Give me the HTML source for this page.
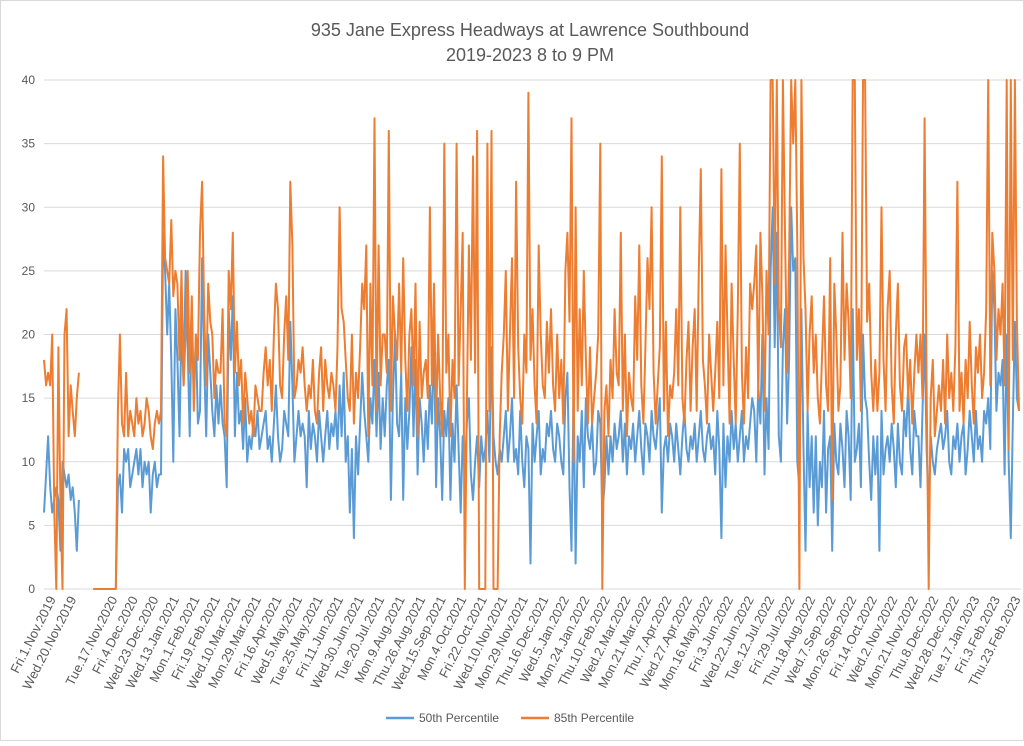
<!DOCTYPE html>
<html><head><meta charset="utf-8"><style>
body{margin:0;background:#fff;}
svg text{font-family:"Liberation Sans",sans-serif;fill:#595959;}
</style></head><body>
<svg id="chart" width="1024" height="741" xmlns="http://www.w3.org/2000/svg">
<rect x="0.5" y="0.5" width="1023" height="740" fill="#fff" stroke="#d9d9d9"/>
<text x="530" y="36" font-size="18" text-anchor="middle">935 Jane Express Headways at Lawrence Southbound</text>
<text x="530" y="61" font-size="18" text-anchor="middle">2019-2023 8 to 9 PM</text>
<g id="grid"></g><g id="xlabels"></g><g id="series"></g>
<g>
<line x1="386" y1="718" x2="414" y2="718" stroke="#5b9bd5" stroke-width="2.5"/>
<text x="419" y="722" font-size="12">50th Percentile</text>
<line x1="521" y1="718" x2="549" y2="718" stroke="#ed7d31" stroke-width="2.5"/>
<text x="554" y="722" font-size="12">85th Percentile</text>
</g>
</svg>
<script>
const yTicks=[0,5,10,15,20,25,30,35,40];
const tickLabels=["Fri.1.Nov.2019","Wed.20.Nov.2019","Tue.17.Nov.2020","Fri.4.Dec.2020","Wed.23.Dec.2020","Wed.13.Jan.2021","Mon.1.Feb.2021","Fri.19.Feb.2021","Wed.10.Mar.2021","Mon.29.Mar.2021","Fri.16.Apr.2021","Wed.5.May.2021","Tue.25.May.2021","Fri.11.Jun.2021","Wed.30.Jun.2021","Tue.20.Jul.2021","Mon.9.Aug.2021","Thu.26.Aug.2021","Wed.15.Sep.2021","Mon.4.Oct.2021","Fri.22.Oct.2021","Wed.10.Nov.2021","Mon.29.Nov.2021","Thu.16.Dec.2021","Wed.5.Jan.2022","Mon.24.Jan.2022","Thu.10.Feb.2022","Wed.2.Mar.2022","Mon.21.Mar.2022","Thu.7.Apr.2022","Wed.27.Apr.2022","Mon.16.May.2022","Fri.3.Jun.2022","Wed.22.Jun.2022","Tue.12.Jul.2022","Fri.29.Jul.2022","Thu.18.Aug.2022","Wed.7.Sep.2022","Mon.26.Sep.2022","Fri.14.Oct.2022","Wed.2.Nov.2022","Mon.21.Nov.2022","Thu.8.Dec.2022","Wed.28.Dec.2022","Tue.17.Jan.2023","Fri.3.Feb.2023","Thu.23.Feb.2023"];
const tickIndex=[4,14,34,44,54,64,74,84,94,104,114,124,134,144,154,164,174,184,194,204,214,224,234,244,254,264,274,284,294,304,314,324,334,344,354,364,374,384,394,404,414,424,434,444,454,464,474];
const p50=[6,9,12,8,6,7,8,7,3,10, 9,8,9,7,8,6,3,7,null,null, null,null,null,null,0,0,0,0,0,0, 0,0,0,0,0,0,8,9,6,11,10,11,8,9,10,11,
9,11,8,10,9,10,6,9,10,8, 9,9,28,25,20,24,18,10,22,18, 12,21,16,25,19,12,22,15,20,13, 14,26,18,12,20,17,14,12,16,13,
16,13,12,8,22,18,23,12,17,13, 14,11,15,10,12,11,13,12,14,11, 12,13,14,11,12,10,13,16,12,10, 11,14,13,12,21,16,10,12,14,12,
13,12,8,14,11,13,12,10,14,12, 10,12,14,11,13,12,14,11,16,12, 17,10,12,6,11,4,12,9,13,17, 14,12,10,15,13,18,12,17,11,15,
12,16,18,7,15,20,13,12,17,7, 15,11,14,19,12,18,9,15,13,10, 14,11,16,13,20,8,15,12,7,14, 12,15,7,13,10,16,11,6,12,9,
13,15,9,7,10,12,8,12,10,11, 14,10,19,12,10,9,11,10,12,14, 10,12,15,10,11,9,14,10,8,12, 11,2,13,10,12,14,9,11,10,13,
12,14,11,10,13,12,10,9,15,17, 8,3,16,2,12,10,14,8,15,12, 11,13,9,10,14,13,6,8,12,9, 12,10,13,11,12,14,10,13,9,12,
11,13,10,12,14,11,9,13,12,10, 14,12,11,13,15,6,11,12,10,13, 12,10,13,11,9,12,14,11,10,12, 11,13,10,12,14,11,10,12,13,11,
12,9,14,11,4,13,8,12,10,14, 11,13,10,12,14,10,12,11,13,15, 14,10,16,13,20,9,15,11,25,30, 19,28,12,10,19,22,13,18,30,25,
26,10,8,22,11,3,14,8,12,6, 12,5,10,8,14,6,11,12,3,13, 10,9,13,11,8,14,12,7,22,10, 11,13,8,20,15,14,10,7,12,9,
12,3,14,9,11,12,10,13,11,8, 13,10,9,14,12,16,11,9,14,12, 12,8,14,20,11,6,12,10,9,11, 12,13,11,12,14,10,9,12,11,13,
10,12,13,9,11,14,12,10,14,11, 12,10,14,13,15,11,25,22,14,17, 16,18,9,20,10,4,13,21,15,14];
const p85=[18,16,17,16,20,6,0,19,7,0, 20,22,12,16,14,12,15,17,null,null, null,null,null,null,0,0,0,0,0,0, 0,0,0,0,0,0,14,20,13,12,17,12,14,13,12,15,
13,14,12,13,15,14,12,11,13,14, 13,14,34,26,25,24,29,23,25,24, 18,25,16,20,25,17,23,14,20,18, 28,32,22,16,24,21,20,15,18,17,
17,22,13,12,25,22,28,17,21,16, 18,13,17,15,13,14,12,16,15,14, 14,17,19,16,18,14,20,24,22,16, 15,20,23,18,32,27,15,16,18,17,
19,16,14,16,15,18,14,13,17,19, 14,18,16,15,17,16,14,19,30,22, 21,18,15,14,20,13,17,15,19,24, 22,27,12,24,16,37,14,27,16,20,
20,17,36,14,23,20,18,24,17,26, 18,14,20,22,16,24,12,21,15,17, 18,15,30,16,24,13,20,15,12,35, 17,20,12,18,15,35,16,22,28,0,
14,27,18,34,17,36,0,0,0,0, 35,14,36,0,0,0,12,17,20,25, 14,20,26,15,32,19,15,13,20,17, 39,18,22,16,13,27,20,16,15,21,
17,22,16,14,20,15,18,13,25,28, 21,37,10,30,14,22,16,25,18,13, 19,13,15,17,20,35,0,14,16,12, 18,15,22,17,16,28,14,20,12,17,
15,14,23,18,27,16,13,19,26,22, 30,17,13,16,19,34,14,21,12,16, 15,17,22,16,30,15,13,18,21,14, 19,22,14,25,33,18,16,13,20,17,
14,17,21,15,33,16,27,20,13,24, 18,13,22,35,17,13,19,15,24,22, 24,27,15,28,23,14,25,20,40,40, 24,40,22,19,40,28,17,26,40,35,
40,27,0,40,26,22,14,20,23,17, 20,15,13,18,23,16,14,26,7,24, 20,14,16,28,18,24,21,15,40,40, 18,22,14,40,40,21,24,17,14,18,
14,17,30,18,14,22,25,16,13,20, 24,16,14,19,20,15,18,13,17,20, 17,20,15,37,16,0,15,18,12,14, 16,14,18,13,20,15,17,14,19,32,
14,17,13,18,15,21,16,13,19,17, 20,15,17,22,40,16,28,25,18,22, 20,24,16,40,11,40,18,40,21,14];

const NS="http://www.w3.org/2000/svg";
const X0=44,X1=1019,Y0=589,Y1=80,YMAX=40;
const N=p85.length;
function xs(i){return X0+i*(X1-X0)/(N-1);}
function ys(v){return Y0-v*(Y0-Y1)/YMAX;}
function mk(tag,attrs,parent){const e=document.createElementNS(NS,tag);for(const k in attrs)e.setAttribute(k,attrs[k]);parent.appendChild(e);return e;}
const grid=document.getElementById('grid');
yTicks.forEach(t=>{
  const l=mk('line',{x1:X0,x2:1021,y1:ys(t),y2:ys(t),stroke:'#d9d9d9','stroke-width':1},grid);
  
  
  const tx=mk('text',{x:35,y:ys(t)+4,'font-size':12,'text-anchor':'end'},grid);
  tx.textContent=t;
  
  
});
const xl=document.getElementById('xlabels');
tickLabels.forEach((s,k)=>{
  const x=xs(tickIndex[k])+4;
  const tx=mk('text',{x:x,y:599,'font-size':13,'text-anchor':'end',transform:'rotate(-63 '+x+' 599)'},xl);
  tx.textContent=s;
  
  
});
function path(arr){let d='',pen=false;arr.forEach((v,i)=>{if(v===null){pen=false;return;}d+=(pen?'L':'M')+xs(i).toFixed(1)+' '+ys(v).toFixed(1);pen=true;});return d;}
const sg=document.getElementById('series');
const l50=mk('path',{d:path(p50),fill:'none',stroke:'#5b9bd5','stroke-width':2,'stroke-linejoin':'round'},sg);


const l85=mk('path',{d:path(p85),fill:'none',stroke:'#ed7d31','stroke-width':2,'stroke-linejoin':'round'},sg);


</script>
</body></html>
